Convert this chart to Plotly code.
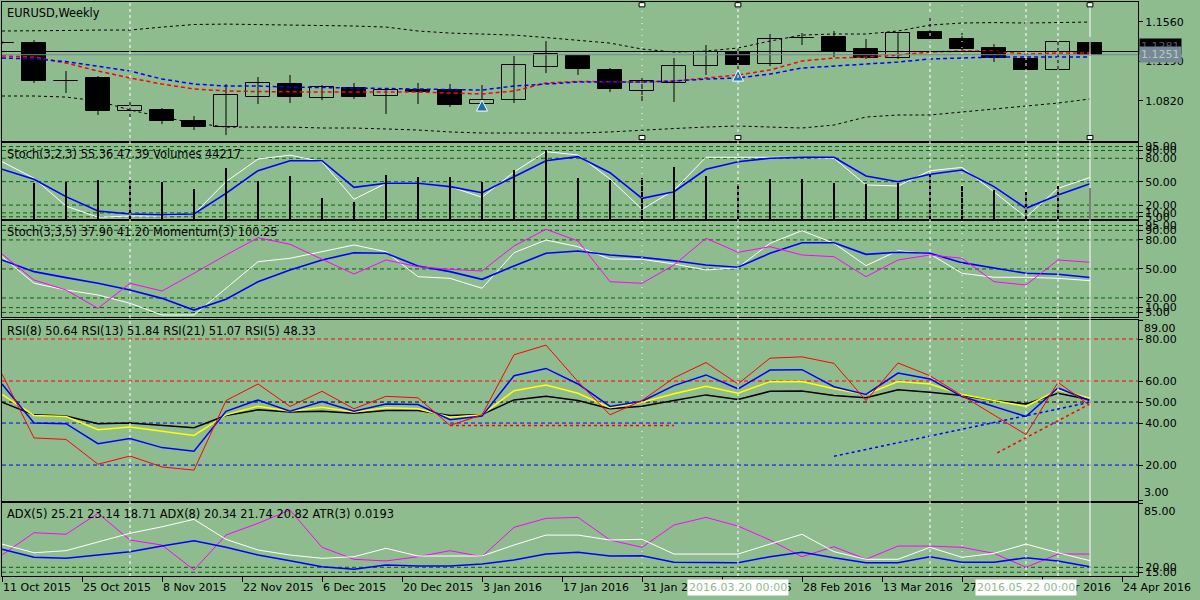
"""EURUSD weekly chart with Stoch, Momentum, RSI and ADX panes (MT4 look)."""
import plotly.graph_objects as go

BG = "#8FBC8F"
LEVEL_GREEN = "#006400"

# bar positions (weekly bars, -1 is the partly hidden one at the left edge)
bars = list(range(-1, 34))

# ---- price pane -------------------------------------------------------
opens = [1.1365, 1.1360, 1.1004, 1.1032, 1.0723, 1.0733, 1.0630, 1.0573, 1.0854, 1.0976,
         1.0845, 1.0939, 1.0864, 1.0920, 1.0920, 1.0789, 1.0826, 1.1136, 1.1238, 1.1107,
         1.0911, 1.0986, 1.1145, 1.1276, 1.1164, 1.1407, 1.1417, 1.1304, 1.1220, 1.1464,
         1.1398, 1.1314, 1.1211, 1.1107, 1.1360]
highs = [1.1380, 1.1389, 1.1098, 1.1051, 1.0826, 1.0751, 1.0676, 1.0976, 1.1042, 1.1061,
         1.0967, 1.0986, 1.0929, 1.0986, 1.0976, 1.0967, 1.1238, 1.1379, 1.1248, 1.1126,
         1.1042, 1.1220, 1.1342, 1.1304, 1.1445, 1.1454, 1.1473, 1.1398, 1.1464, 1.1623,
         1.1454, 1.1351, 1.1220, 1.1370, 1.1417]
lows = [1.1350, 1.0986, 1.0892, 1.0686, 1.0667, 1.0601, 1.0545, 1.0498, 1.0789, 1.0798,
        1.0826, 1.0836, 1.0695, 1.0789, 1.0761, 1.0780, 1.0798, 1.1079, 1.1061, 1.0901,
        1.0808, 1.0808, 1.1061, 1.1107, 1.1145, 1.1342, 1.1229, 1.1211, 1.1211, 1.1379,
        1.1295, 1.1182, 1.1103, 1.1089, 1.1238]
closes = [1.1357, 1.1004, 1.1004, 1.0723, 1.0770, 1.0630, 1.0573, 1.0873, 1.0986, 1.0854,
          1.0948, 1.0854, 1.0920, 1.0906, 1.0780, 1.0826, 1.1154, 1.1257, 1.1117, 1.0929,
          1.1004, 1.1145, 1.1276, 1.1154, 1.1398, 1.1407, 1.1276, 1.1220, 1.1454, 1.1398,
          1.1304, 1.1220, 1.1107, 1.1370, 1.1245]
band_upper = [1.1473, 1.1473, 1.1478, 1.1482, 1.1482, 1.1510, 1.1534, 1.1538, 1.1534, 1.1529,
              1.1529, 1.1520, 1.1510, 1.1473, 1.1454, 1.1445, 1.1435, 1.1412, 1.1389, 1.1360,
              1.1304, 1.1276, 1.1285, 1.1314, 1.1379, 1.1435, 1.1445, 1.1445, 1.1473, 1.1529,
              1.1548, 1.1552, 1.1548, 1.1552, 1.1557]
band_lower = [1.0864, 1.0864, 1.0854, 1.0817, 1.0733, 1.0667, 1.0611, 1.0573, 1.0573, 1.0573,
              1.0564, 1.0564, 1.0555, 1.0545, 1.0527, 1.0517, 1.0517, 1.0517, 1.0517, 1.0527,
              1.0545, 1.0559, 1.0573, 1.0583, 1.0573, 1.0564, 1.0592, 1.0667, 1.0686, 1.0686,
              1.0714, 1.0742, 1.0770, 1.0798, 1.0836]
ma_red = [1.1239, 1.1229, 1.1173, 1.1098, 1.1033, 1.0976, 1.0930, 1.0911, 1.0906, 1.0901,
          1.0901, 1.0901, 1.0901, 1.0901, 1.0892, 1.0883, 1.0911, 1.0986, 1.1000, 1.0995,
          1.0995, 1.1004, 1.1033, 1.1061, 1.1107, 1.1192, 1.1220, 1.1229, 1.1248, 1.1276,
          1.1285, 1.1285, 1.1257, 1.1267, 1.1267]
ma_blue = [1.1220, 1.1211, 1.1187, 1.1145, 1.1098, 1.1023, 1.0976, 1.0957, 1.0957, 1.0948,
           1.0943, 1.0939, 1.0939, 1.0930, 1.0925, 1.0920, 1.0957, 1.0976, 1.0995, 1.0995,
           1.0995, 1.1004, 1.1023, 1.1033, 1.1070, 1.1126, 1.1145, 1.1164, 1.1182, 1.1211,
           1.1220, 1.1229, 1.1229, 1.1229, 1.1229]
bid_price = 1.1281
ask_price = 1.1251
price_ticks = [1.1560, 1.1190, 1.0820]
arrow_bars = [14, 22]
arrow_prices = [1.0826, 1.1107]
vline_bars = [3, 19, 22, 28, 29, 31, 32, 33]
vline_dash = ["3px,3px", "1px,5px", "3px,3px", "3px,3px", "1px,5px", "3px,3px", "3px,3px", "solid"]
handle_bars = [19, 22, 33]

# ---- Stoch(3,2,3) + Volumes -----------------------------------------
stoch1_main = [75.6, 54.4, 18.8, 4.4, 6, 6, 8.6, 50, 79, 84, 75.6, 27.4, 48, 48, 43.6, 30, 62.4,
               88.5, 84.2, 53.4, 14.6, 39, 81.3, 81.3, 81.3, 81.3, 80, 45.8, 44.5, 64, 68.3, 37,
               4.4, 41.5, 55.36]
stoch1_signal = [65.9, 53.1, 30.8, 12.4, 8.6, 7.7, 8.6, 35.1, 64.1, 76.9, 76.9, 42.8, 47.9, 47.9,
                 43.6, 35.9, 56.4, 76.9, 82.1, 61.5, 28.7, 37.2, 65.9, 75.6, 80, 81.3, 81.3, 57.3,
                 50, 59.5, 65, 43.6, 15.9, 33, 47.39]
volumes = [None, 50300, 51700, 55100, 55100, 51700, 42400, 72100, 54100, 61200, 29700, 23500,
           62600, 59800, 59800, 51700, 69200, 97900, 57900, 55100, 57900, 73900, 61200, 49500,
           56500, 56900, 51300, 49900, 51300, 62200, 47100, 41400, 38600, 47100, 44217]

# ---- Stoch(3,3,5) + Momentum(3) -------------------------------------
stoch2_main = [62.7, 35.2, 28.2, 23.1, 14.5, 2.4, 2.4, 30, 57.5, 61, 67.8, 74.8, 67.8, 42, 40.3,
               30, 66.8, 79.9, 73, 60.3, 60, 55.1, 48.9, 51.3, 76.5, 89.6, 76.5, 53.4, 68.9, 65.5,
               45.5, 41.4, 41.4, 40.3, 37.9]
stoch2_signal = [59.3, 47.2, 41, 35.2, 28.2, 19.6, 7.5, 18.6, 36.8, 48.9, 59.3, 66.8, 66.2, 53.1,
                 47.2, 39.3, 53.1, 66.2, 68.6, 64.4, 62, 58.5, 54.1, 51.7, 66.2, 77.1, 77.1, 65.1,
                 67.2, 66.2, 56.5, 51.3, 45.5, 44.5, 41.2]
momentum = [101.08, 98.48, 97.48, 95.65, 98.15, 97.38, 99.15, 100.98, 102.71, 102.05, 100.55,
            99.08, 100.48, 99.81, 99.55, 99.38, 101.88, 103.55, 102.38, 98.31, 98.15, 99.98,
            102.65, 101.25, 101.81, 100.98, 100.81, 98.81, 100.48, 100.98, 100.65, 98.31, 97.98,
            100.48, 100.25]
stoch_levels = [95, 90, 80, 50, 20, 10, 5]

# ---- RSI ---------------------------------------------------------------
rsi5 = [63.4, 32.9, 32.2, 20.4, 24.3, 19.1, 17.6, 50.7, 58.6, 47.9, 55.1, 46.8, 52.7, 52, 38.9,
        43.9, 72.5, 77.1, 59.7, 43.9, 50.7, 61.5, 68.8, 58.6, 70.9, 71.5, 68.4, 50.7, 68.6, 62.5,
        53.1, 43.6, 34.5, 59.4, 48.33]
rsi8 = [58.6, 40, 39.7, 30.2, 32.6, 28.3, 26.6, 45.6, 51, 45.6, 50.2, 45.6, 49.1, 48.8, 41.6,
        43.3, 62.5, 66, 58.6, 47.9, 50.4, 57.8, 62.9, 56.3, 65.2, 65.4, 57.3, 53.6, 63.8, 61,
        52.6, 47.9, 43.1, 56.7, 50.64]
rsi13 = [53.6, 43.6, 43.1, 36.8, 38.1, 36, 34.1, 43.9, 48, 45.6, 47.5, 45.2, 47.3, 46.8, 42.8,
         43.9, 55.4, 58.1, 54.2, 47.3, 49.9, 53.9, 57.5, 54.2, 59.7, 59.8, 56.3, 53.6, 59.8, 58.6,
         53.6, 50.7, 47.9, 55.8, 51.84]
rsi21 = [49.9, 43.9, 43.3, 39.7, 40, 38.9, 37.8, 43.6, 46.3, 45.2, 45.6, 44.7, 46, 46, 43.6, 44.1,
         51, 52.7, 50.7, 46.8, 48, 50.7, 53.4, 51.2, 55.1, 55.3, 53.1, 52, 55.8, 54.6, 53.1, 50.7,
         49.1, 54.2, 51.07]
rsi_levels = [80, 60, 50, 40, 20]
rsi_level_colors = ["red", "red", "black", "blue", "blue"]
rsi_ticks = [89, 80, 60, 50, 40, 20, 3]
# hand drawn trend lines on the RSI pane
trend_flat_x, trend_flat_y = [13, 20], [38.8, 38.8]
trend_blue_x, trend_blue_y = [25, 33], [24.2, 49.9]
trend_red_x, trend_red_y = [30.1, 33], [25.8, 49.1]

# ---- ADX / ATR ----------------------------------------------------------
adx5 = [32.4, 55, 53.4, 74.6, 47.6, 42.5, 17.3, 52.6, 64.5, 77.9, 40.2, 28.1, 26.4, 30.7, 36.8,
        30.7, 60.4, 69.5, 70.5, 47.6, 40.2, 62.8, 70.5, 61.7, 47.6, 30.7, 40.8, 28.1, 41.5, 41.5,
        40.2, 34.1, 20, 33.4, 33.4]
adx8 = [43.5, 34.7, 36.8, 45.9, 54.4, 61, 68.5, 48.3, 37.5, 32.4, 29.1, 30.7, 39.2, 31.4, 31.4,
        31.4, 42.5, 52.6, 52.6, 47.6, 48.3, 33.4, 33.4, 33.4, 43.5, 53.4, 35.8, 28.1, 28.1, 40.2,
        30.1, 34.1, 43.5, 34.7, 26.7]
atr_line = [38.2, 30.1, 29.1, 32.4, 35.8, 41.5, 46.9, 40.2, 32.4, 26.7, 20.6, 18, 22.3, 21.3,
            21.3, 23.3, 27.4, 33.4, 35.2, 31.4, 31.7, 25, 25, 24.6, 30.7, 35.2, 29.7, 24.6, 24.6,
            30.7, 25, 25, 29.7, 26.4, 20.6]
adx_levels = [20, 15]
adx_ticks = [85, 20, 15]

# ---- time scale -----------------------------------------------------------
date_ticks = [-1, 1.5, 4, 6.5, 9, 11.5, 14, 16.5, 19, 21.5, 24, 26.5, 29, 31.5, 34]
date_labels = ["11 Oct 2015", "25 Oct 2015", "8 Nov 2015", "22 Nov 2015", "6 Dec 2015",
               "20 Dec 2015", "3 Jan 2016", "17 Jan 2016", "31 Jan 2016", "14 Feb 2016",
               "28 Feb 2016", "13 Mar 2016", "27 Mar 2016", "10 Apr 2016", "24 Apr 2016"]
cursor_bars = [22, 31]
cursor_labels = ["2016.03.20 00:00", "2016.05.22 00:00"]

# pane layout (paper fractions, bottom to top)
DOMAINS = {1: [0.7578, 1.0], 2: [0.6220, 0.7544], 3: [0.4512, 0.6185],
           4: [0.1307, 0.4460], 5: [0.0, 0.1272]}


def line(x, y, color, width=1, dash="solid", xa="x", ya="y"):
    return go.Scatter(x=x, y=y, mode="lines", xaxis=xa, yaxis=ya, hoverinfo="skip",
                      line=dict(color=color, width=width, dash=dash))


def scale_labels(values, clamp=()):
    # MT4 writes the window min/max inside the pane; those are drawn as annotations
    return ["" if v in clamp else f"{v:.2f}" for v in values]


fig = go.Figure()

# price pane: wicks first, bodies drawn over them
wick_x, wick_y = [], []
for b, hi, lo in zip(bars, highs, lows):
    wick_x += [b, b, None]
    wick_y += [lo, hi, None]
fig.add_trace(line(wick_x, wick_y, "black", 1))

body_base = [min(o, c) for o, c in zip(opens, closes)]
body_size = [max(abs(c - o), 0.00002) for o, c in zip(opens, closes)]
body_fill = [BG if c > o else "black" for o, c in zip(opens, closes)]
fig.add_trace(go.Bar(
    x=bars, y=body_size, base=body_base, width=0.72, xaxis="x", yaxis="y", hoverinfo="skip",
    marker=dict(color=body_fill, line=dict(color="black", width=1)),
))
fig.add_trace(line(bars, band_upper, "black", 1, "3px,3px"))
fig.add_trace(line(bars, band_lower, "black", 1, "3px,3px"))
fig.add_trace(line(bars, ma_red, "red", 1.5, "4px,3px"))
fig.add_trace(line(bars, ma_blue, "blue", 1.5, "4px,3px"))
fig.add_trace(go.Scatter(
    x=arrow_bars, y=arrow_prices, mode="markers", xaxis="x", yaxis="y", hoverinfo="skip",
    marker=dict(symbol="arrow-up", size=11, color="#1F6EB5", line=dict(color="white", width=1)),
))

# stoch + volumes
fig.add_trace(go.Bar(x=bars, y=volumes, width=0.05, marker=dict(color="black", line_width=0),
                     xaxis="x2", yaxis="y6", hoverinfo="skip"))
fig.add_trace(line(bars, stoch1_main, "white", 1, xa="x2", ya="y2"))
fig.add_trace(line(bars, stoch1_signal, "blue", 1.6, xa="x2", ya="y2"))

# stoch + momentum
fig.add_trace(line(bars, momentum, "magenta", 1, xa="x3", ya="y7"))
fig.add_trace(line(bars, stoch2_main, "white", 1, xa="x3", ya="y3"))
fig.add_trace(line(bars, stoch2_signal, "blue", 1.6, xa="x3", ya="y3"))

# RSI
fig.add_trace(line(trend_flat_x, trend_flat_y, "red", 1.5, "3px,3px", "x4", "y4"))
fig.add_trace(line(trend_blue_x, trend_blue_y, "blue", 1.5, "3px,3px", "x4", "y4"))
fig.add_trace(line(trend_red_x, trend_red_y, "red", 1.5, "3px,3px", "x4", "y4"))
fig.add_trace(line(bars, rsi21, "black", 1.5, xa="x4", ya="y4"))
fig.add_trace(line(bars, rsi13, "yellow", 1.5, xa="x4", ya="y4"))
fig.add_trace(line(bars, rsi8, "blue", 1.5, xa="x4", ya="y4"))
fig.add_trace(line(bars, rsi5, "red", 1, xa="x4", ya="y4"))

# ADX
fig.add_trace(line(bars, adx5, "magenta", 1, xa="x5", ya="y5"))
fig.add_trace(line(bars, adx8, "white", 1, xa="x5", ya="y5"))
fig.add_trace(line(bars, atr_line, "blue", 1.5, xa="x5", ya="y5"))

shapes = []
# level lines
for pane in (2, 3):
    for lv in stoch_levels:
        shapes.append(dict(type="line", xref="paper", x0=0, x1=1, yref=f"y{pane}", y0=lv, y1=lv,
                           line=dict(color=LEVEL_GREEN, width=1, dash="4px,3px"), layer="below"))
for lv, col in zip(rsi_levels, rsi_level_colors):
    shapes.append(dict(type="line", xref="paper", x0=0, x1=1, yref="y4", y0=lv, y1=lv,
                       line=dict(color=col, width=1, dash="4px,3px"), layer="below"))
for lv in adx_levels:
    shapes.append(dict(type="line", xref="paper", x0=0, x1=1, yref="y5", y0=lv, y1=lv,
                       line=dict(color=LEVEL_GREEN, width=1, dash="4px,3px"), layer="below"))
# bid / ask lines
shapes.append(dict(type="line", xref="paper", x0=0, x1=1, yref="y", y0=bid_price, y1=bid_price,
                   line=dict(color="black", width=1)))
shapes.append(dict(type="line", xref="paper", x0=0, x1=1, yref="y", y0=ask_price, y1=ask_price,
                   line=dict(color="#778899", width=1)))
# vertical line objects through all panes
for b, d in zip(vline_bars, vline_dash):
    shapes.append(dict(type="line", xref="x", x0=b, x1=b, yref="paper", y0=0, y1=1,
                       line=dict(color="white", width=1, dash=d)))
# handles of the selected vertical lines
for b in handle_bars:
    for yy in (0.01, 0.965):
        shapes.append(dict(type="rect", xref="x", x0=b - 0.09, x1=b + 0.09,
                           yref="y domain", y0=yy, y1=yy + 0.03,
                           fillcolor="white", line=dict(color="black", width=1)))

annotations = []
titles = {1: "EURUSD,Weekly",
          2: "Stoch(3,2,3) 55.36 47.39 Volumes 44217",
          3: "Stoch(3,3,5) 37.90 41.20 Momentum(3) 100.25",
          4: "RSI(8) 50.64 RSI(13) 51.84 RSI(21) 51.07 RSI(5) 48.33",
          5: "ADX(5) 25.21 23.14 18.71 ADX(8) 20.34 21.74 20.82 ATR(3) 0.0193"}
for pane, txt in titles.items():
    yname = "y" if pane == 1 else f"y{pane}"
    annotations.append(dict(text=txt, xref="paper", x=0, xanchor="left", xshift=3,
                            yref=f"{yname} domain", y=1, yanchor="top", yshift=-2,
                            showarrow=False, font=dict(size=11.4, color="black")))
# window max / min labels sitting inside their panes
for text, yref, ypos, anchor in [(f"{rsi_ticks[0]:.2f}", "y4 domain", 1, "top"),
                                 (f"{rsi_ticks[-1]:.2f}", "y4 domain", 0, "bottom"),
                                 (f"{adx_ticks[0]:.2f}", "y5 domain", 1, "top")]:
    annotations.append(dict(text=text, xref="paper", x=1, xanchor="left", xshift=4,
                            yref=yref, y=ypos, yanchor=anchor, showarrow=False,
                            font=dict(size=11, color="black")))
for pos, lab in zip(date_ticks, date_labels):
    annotations.append(dict(text=lab, xref="x5", x=pos, xanchor="left", xshift=-1,
                            yref="paper", y=0, yanchor="top", yshift=-3,
                            showarrow=False, font=dict(size=11, color="black")))
for pos, lab in zip(cursor_bars, cursor_labels):
    annotations.append(dict(text=lab, xref="x5", x=pos, xanchor="center",
                            yref="paper", y=0, yanchor="top", yshift=-3, bgcolor="white",
                            borderpad=1, showarrow=False, font=dict(size=11, color=BG)))
# current price labels on the right scale
annotations.append(dict(text=f"{bid_price:.4f}", xref="paper", x=1, xanchor="left", xshift=1,
                        yref="y", y=bid_price, yanchor="bottom", yshift=-3, bgcolor="black",
                        borderpad=1, showarrow=False, font=dict(size=11, color="#5A5A5A")))
annotations.append(dict(text=f"{ask_price:.4f}", xref="paper", x=1, xanchor="left", xshift=1,
                        yref="y", y=ask_price, yanchor="middle", bgcolor="#778899", borderpad=1,
                        showarrow=False, font=dict(size=11, color="#B4CDB0")))

axis_common = dict(showline=True, mirror=True, linecolor="black", linewidth=1,
                   showgrid=False, zeroline=False, fixedrange=True)
yaxis_common = dict(axis_common, side="right", ticks="outside", ticklen=4, tickcolor="black",
                    tickfont=dict(size=11, color="black"))

layout = dict(
    width=1200, height=600,
    margin=dict(l=2, r=62, t=2, b=24, autoexpand=False),
    paper_bgcolor=BG, plot_bgcolor=BG,
    font=dict(family="DejaVu Sans", size=11, color="black"),
    showlegend=False, hovermode=False, bargap=0, barmode="overlay",
    shapes=shapes, annotations=annotations,
)
for pane in range(1, 6):
    xname = "xaxis" if pane == 1 else f"xaxis{pane}"
    yanchor = "y" if pane == 1 else f"y{pane}"
    xa = dict(axis_common, anchor=yanchor, domain=[0, 1], range=[-1, 34.5],
              showticklabels=False)
    if pane > 1:
        xa["matches"] = "x"
    if pane == 5:
        xa.update(tickmode="array", tickvals=date_ticks, ticks="outside", ticklen=5,
                  tickcolor="black")
    layout[xname] = xa

layout["yaxis"] = dict(yaxis_common, anchor="x", domain=DOMAINS[1], range=[1.0442, 1.1745],
                       tickmode="array", tickvals=price_ticks,
                       ticktext=[f"{v:.4f}" for v in price_ticks])
layout["yaxis2"] = dict(yaxis_common, anchor="x2", domain=DOMAINS[2], range=[2.2, 99.6],
                        tickmode="array", tickvals=stoch_levels,
                        ticktext=scale_labels(stoch_levels))
layout["yaxis3"] = dict(yaxis_common, anchor="x3", domain=DOMAINS[3], range=[0.3, 99.6],
                        tickmode="array", tickvals=stoch_levels,
                        ticktext=scale_labels(stoch_levels))
layout["yaxis4"] = dict(yaxis_common, anchor="x4", domain=DOMAINS[4], range=[2.9, 89.05],
                        tickmode="array", tickvals=rsi_ticks,
                        ticktext=scale_labels(rsi_ticks, (rsi_ticks[0], rsi_ticks[-1])))
layout["yaxis5"] = dict(yaxis_common, anchor="x5", domain=DOMAINS[5], range=[11.2, 85.05],
                        tickmode="array", tickvals=adx_ticks,
                        ticktext=scale_labels(adx_ticks, (adx_ticks[0],)))
# own scales for volumes and momentum
layout["yaxis6"] = dict(overlaying="y2", anchor="x2", range=[0, 107400], visible=False,
                        fixedrange=True)
layout["yaxis7"] = dict(overlaying="y3", anchor="x3", range=[94.78, 104.38], visible=False,
                        fixedrange=True)

fig.update_layout(**layout)
# the page body has a default 8px margin; drop it so the chart sits at the window origin
fig.write_html("out.html", config={"displayModeBar": False},
               post_script="document.body.style.margin = '0';")
